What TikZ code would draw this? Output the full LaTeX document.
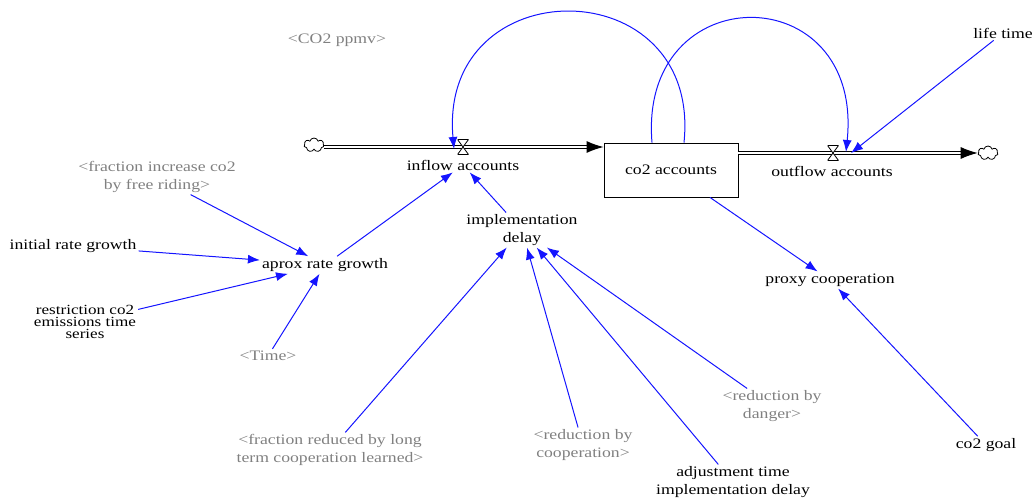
\documentclass[tikz,border=0pt]{standalone}
\usepackage{fontspec}
\setmainfont[FakeStretch=1.22]{Liberation Serif}
\usetikzlibrary{arrows.meta,shapes.symbols}
\definecolor{vblue}{RGB}{20,20,255}
\definecolor{vgray}{RGB}{128,128,128}
\tikzset{
  var/.style={inner sep=2pt, align=center, font=\fontsize{14.5}{17.5}\selectfont},
  ghost/.style={var, text=vgray},
  stock/.style={draw, line width=0.9pt, minimum width=134pt, minimum height=54pt, inner sep=0pt, font=\fontsize{14.5}{17.5}\selectfont},
  link/.style={draw=vblue, line width=1pt, -{Latex[length=12pt,width=9pt]}},
  pipe/.style={draw=black, line width=1pt, double=white, double distance=2pt},
  pipetip/.style={-{Latex[length=17pt,width=12pt]}},
  valve/.style={minimum width=11pt, minimum height=15pt, inner sep=0pt, outer sep=0pt,
    path picture={\draw[line width=0.8pt, fill=white] (path picture bounding box.north west) -- (path picture bounding box.north east) -- (path picture bounding box.south west) -- (path picture bounding box.south east) -- cycle;}},
  sinkcloud/.style={cloud, cloud puffs=7, draw, line width=0.8pt, minimum width=20pt, minimum height=14pt, inner sep=0pt, fill=white, aspect=1.4}
}
\begin{document}
\begin{tikzpicture}[x=1pt,y=-1pt]
\useasboundingbox (0,0) rectangle (1036,502);
% stock and flows
\node[stock] (co2) at (671,170) {co2 accounts};
\node[sinkcloud] (src) at (314,145) {};
\node[sinkcloud] (sink) at (988,153) {};
\draw[pipe,pipetip] (src.east |- 0,147) -- (co2.west |- 0,147);
\draw[pipe,pipetip] (co2.east |- 0,153) -- (sink.west |- 0,153);
\node[valve] (v1) at (463,147) {};
\node[valve] (v2) at (833,153) {};
\node[var] (inflow) at (463,165) {inflow accounts};
\node[var] (outflow) at (832,171) {outflow accounts};
\coordinate (v1in) at (454,149);
\coordinate (v2in) at (846,152);
\coordinate (v2life) at (851,153);
% variables
\node[var] (life) at (1003,33) {life time};
\node[ghost] (ppmv) at (337,40) {<CO2 ppmv>};
\node[ghost] (fic) at (157,177) {<fraction increase co2\\by free riding>};
\node[var] (irg) at (73,246) {initial rate growth};
\node[var] (arg) at (325,265) {aprox rate growth};
\node[var, font=\fontsize{14}{12}\selectfont] (rco2) at (85,322) {restriction co2\\emissions time\\series};
\node[ghost] (time) at (268,356) {<Time>};
\node[var] (impl) at (522,230) {implementation\\delay};
\node[var] (proxy) at (830,280) {proxy cooperation};
\node[ghost] (frl) at (330,450) {<fraction reduced by long\\term cooperation learned>};
\node[ghost] (rbc) at (583,445) {<reduction by\\cooperation>};
\node[var] (adj) at (733,482) {adjustment time\\implementation delay};
\node[ghost] (rbd) at (772,406) {<reduction by\\danger>};
\node[var] (goal) at (986,445) {co2 goal};
% loops
\draw[link] ([xshift=13pt]co2.north) .. controls (702,-32) and (438,-32) .. (v1in);
\draw[link] ([xshift=-19pt]co2.north) .. controls (638,-24) and (864,-24) .. (v2in);
% links
\draw[link] (life) -- (v2life);
\draw[link] (fic) -- (arg);
\draw[link] (irg) -- (arg);
\draw[link] (rco2) -- (arg);
\draw[link] (time) -- (arg);
\draw[link] (arg) -- (inflow);
\draw[link] (impl) -- (inflow);
\draw[link] (frl) -- (impl);
\draw[link] (rbc) -- (impl);
\draw[link] (adj) -- (impl);
\draw[link] (rbd) -- (impl);
\draw[link] ([xshift=39pt]co2.south) -- (proxy);
\draw[link] (goal) -- (proxy);
\end{tikzpicture}
\end{document}
